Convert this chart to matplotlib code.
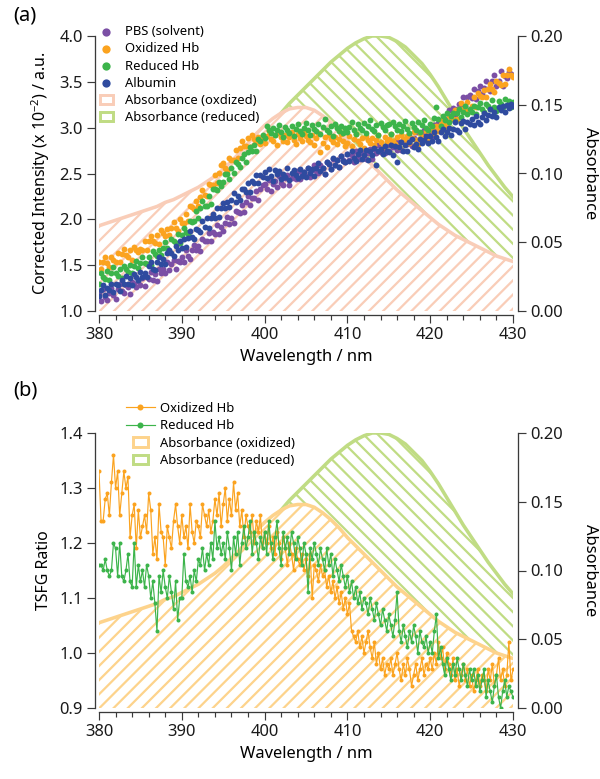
"""SFG spectra of haemoglobin with absorbance bands"""
import matplotlib.pyplot as plt
import matplotlib.patches as mpatches
from matplotlib.legend_handler import HandlerPatch
from matplotlib.ticker import MultipleLocator, FormatStrFormatter
import numpy as np

plt.rcParams['font.family'] = ['Noto Sans', 'DejaVu Sans']
plt.rcParams['mathtext.fontset'] = 'custom'
plt.rcParams['mathtext.rm'] = 'Noto Sans'
plt.rcParams['mathtext.it'] = 'Noto Sans:italic'
plt.rcParams['hatch.linewidth'] = 1.9

# absorbance, 1 nm steps 380..430
wl_abs = np.arange(380, 431)
abs_ox = [0.062, 0.064, 0.066, 0.068, 0.070, 0.072, 0.074, 0.076, 0.079, 0.081,
          0.084, 0.087, 0.090, 0.094, 0.098, 0.103, 0.109, 0.115, 0.122, 0.129,
          0.135, 0.140, 0.144, 0.147, 0.148, 0.148, 0.146, 0.142, 0.137, 0.131,
          0.124, 0.118, 0.112, 0.106, 0.100, 0.094, 0.088, 0.083, 0.078, 0.073,
          0.068, 0.063, 0.059, 0.055, 0.052, 0.049, 0.046, 0.043, 0.040, 0.038,
          0.036]
abs_red = [0.038, 0.040, 0.042, 0.044, 0.046, 0.049, 0.052, 0.055, 0.059, 0.063,
           0.067, 0.072, 0.077, 0.083, 0.089, 0.095, 0.102, 0.109, 0.116, 0.123,
           0.130, 0.137, 0.144, 0.151, 0.157, 0.163, 0.169, 0.175, 0.181, 0.186,
           0.191, 0.195, 0.198, 0.200, 0.200, 0.199, 0.196, 0.192, 0.186, 0.180,
           0.172, 0.163, 0.153, 0.143, 0.133, 0.124, 0.115, 0.106, 0.098, 0.090,
           0.083]

# SFG data, 0.25 nm steps 380..430
wl = 380 + 0.25 * np.arange(201)

pbs = [1.19, 1.11, 1.24, 1.15, 1.12, 1.20, 1.25, 1.17, 1.13, 1.24, 1.29, 1.22, 1.20, 1.28, 1.26, 1.19, 1.32, 1.29, 1.26, 1.33,
       1.28, 1.36, 1.27, 1.37, 1.35, 1.43, 1.34, 1.40, 1.33, 1.46, 1.42, 1.46, 1.41, 1.54, 1.45, 1.51, 1.56, 1.46, 1.55, 1.53,
       1.59, 1.54, 1.66, 1.60, 1.57, 1.67, 1.72, 1.66, 1.71, 1.65, 1.78, 1.76, 1.76, 1.85, 1.76, 1.86, 1.84, 1.94, 1.84, 1.92,
       1.87, 1.96, 2.02, 1.95, 2.01, 1.96, 2.09, 2.08, 2.07, 2.16, 2.08, 2.19, 2.25, 2.16, 2.23, 2.23, 2.31, 2.21, 2.33, 2.37,
       2.39, 2.33, 2.43, 2.31, 2.39, 2.42, 2.35, 2.47, 2.40, 2.38, 2.45, 2.48, 2.37, 2.45, 2.50, 2.44, 2.53, 2.44, 2.50, 2.52,
       2.47, 2.56, 2.46, 2.54, 2.59, 2.53, 2.51, 2.59, 2.56, 2.50, 2.62, 2.60, 2.55, 2.66, 2.59, 2.65, 2.57, 2.69, 2.65, 2.62,
       2.71, 2.65, 2.70, 2.62, 2.75, 2.68, 2.66, 2.72, 2.77, 2.66, 2.72, 2.77, 2.66, 2.77, 2.72, 2.81, 2.73, 2.77, 2.72, 2.81,
       2.74, 2.82, 2.79, 2.86, 2.76, 2.84, 2.76, 2.87, 2.85, 2.82, 2.91, 2.80, 2.89, 2.95, 2.87, 2.85, 2.93, 2.97, 2.87, 2.93,
       2.95, 2.90, 3.03, 2.98, 3.05, 2.96, 3.09, 3.09, 3.06, 3.19, 3.12, 3.21, 3.12, 3.20, 3.26, 3.21, 3.33, 3.24, 3.33, 3.36,
       3.32, 3.42, 3.31, 3.40, 3.45, 3.37, 3.43, 3.51, 3.42, 3.40, 3.51, 3.58, 3.46, 3.51, 3.62, 3.46, 3.56, 3.54, 3.61, 3.59,
       3.56]
oxi = [1.53, 1.46, 1.53, 1.59, 1.52, 1.48, 1.59, 1.56, 1.54, 1.63, 1.53, 1.62, 1.68, 1.61, 1.59, 1.67, 1.56, 1.70, 1.67, 1.64,
       1.68, 1.66, 1.76, 1.66, 1.76, 1.82, 1.76, 1.74, 1.83, 1.73, 1.88, 1.85, 1.82, 1.90, 1.83, 1.91, 1.97, 1.91, 1.87, 2.00,
       1.96, 1.96, 2.06, 1.98, 2.14, 2.13, 2.11, 2.20, 2.15, 2.24, 2.32, 2.27, 2.25, 2.39, 2.38, 2.38, 2.48, 2.40, 2.51, 2.59,
       2.61, 2.56, 2.53, 2.67, 2.65, 2.65, 2.76, 2.67, 2.78, 2.85, 2.80, 2.80, 2.89, 2.79, 2.92, 2.88, 2.84, 2.90, 2.82, 2.88,
       2.83, 2.91, 2.96, 2.88, 2.85, 2.92, 2.81, 2.94, 2.90, 2.86, 2.92, 2.84, 2.90, 2.95, 2.87, 2.82, 2.93, 2.89, 2.86, 2.94,
       2.91, 2.87, 2.84, 2.92, 2.81, 2.89, 2.94, 2.73, 2.83, 2.90, 2.79, 2.92, 2.88, 2.84, 2.90, 2.82, 2.88, 2.93, 2.85, 2.80,
       2.83, 2.91, 2.80, 2.88, 2.93, 2.85, 2.82, 2.89, 2.78, 2.91, 2.87, 2.83, 2.89, 2.81, 2.87, 2.92, 2.84, 2.79, 2.90, 2.86,
       2.88, 2.93, 2.85, 2.82, 2.90, 2.79, 2.92, 2.88, 2.85, 2.91, 2.83, 2.89, 2.95, 2.87, 2.82, 2.94, 2.90, 2.88, 2.96, 2.86,
       2.99, 2.97, 2.94, 3.02, 2.96, 3.04, 3.10, 3.04, 3.01, 3.13, 3.11, 3.10, 3.19, 3.10, 3.20, 3.27, 3.20, 3.19, 3.28, 3.18,
       3.24, 3.33, 3.23, 3.38, 3.35, 3.33, 3.41, 3.34, 3.42, 3.48, 3.42, 3.39, 3.51, 3.49, 3.47, 3.57, 3.48, 3.57, 3.64, 3.57,
       3.55]
red = [1.29, 1.41, 1.37, 1.35, 1.44, 1.34, 1.42, 1.48, 1.41, 1.38, 1.46, 1.36, 1.49, 1.46, 1.43, 1.50, 1.42, 1.49, 1.55, 1.47,
       1.52, 1.59, 1.52, 1.51, 1.59, 1.50, 1.65, 1.62, 1.60, 1.67, 1.61, 1.69, 1.75, 1.69, 1.65, 1.78, 1.76, 1.74, 1.84, 1.74,
       1.83, 1.91, 1.86, 1.84, 1.98, 1.97, 1.98, 2.09, 2.01, 2.12, 2.20, 2.15, 2.15, 2.25, 2.17, 2.33, 2.33, 2.32, 2.41, 2.36,
       2.41, 2.50, 2.49, 2.44, 2.56, 2.51, 2.63, 2.60, 2.57, 2.67, 2.71, 2.62, 2.73, 2.79, 2.74, 2.81, 2.75, 2.88, 2.85, 2.92,
       2.89, 3.02, 2.98, 2.94, 3.00, 2.92, 2.98, 3.03, 2.95, 2.90, 3.01, 2.97, 2.94, 3.02, 2.91, 2.99, 3.04, 2.96, 2.93, 3.00,
       3.05, 2.97, 2.92, 3.03, 2.99, 2.96, 3.04, 2.93, 3.01, 3.09, 2.98, 2.95, 3.02, 2.91, 3.04, 3.00, 2.96, 3.02, 2.94, 3.00,
       2.95, 3.01, 3.06, 2.98, 2.93, 3.04, 3.00, 2.97, 3.05, 2.94, 3.02, 3.08, 2.99, 2.96, 3.03, 2.92, 3.05, 3.01, 2.97, 3.03,
       3.04, 2.93, 3.06, 3.02, 2.98, 3.04, 2.96, 3.02, 3.07, 2.99, 2.94, 3.05, 3.01, 2.98, 3.06, 2.95, 3.03, 3.08, 3.00, 2.97,
       3.04, 3.02, 3.11, 3.23, 3.09, 3.02, 3.13, 3.08, 3.16, 3.06, 3.13, 3.16, 3.07, 3.16, 3.20, 3.12, 3.17, 3.24, 3.15, 3.20,
       3.17, 3.24, 3.15, 3.23, 3.27, 3.20, 3.17, 3.26, 3.24, 3.20, 3.30, 3.23, 3.18, 3.29, 3.26, 3.23, 3.31, 3.25, 3.29, 3.23,
       3.28]
alb = [1.16, 1.23, 1.28, 1.17, 1.25, 1.23, 1.30, 1.21, 1.30, 1.28, 1.22, 1.34, 1.30, 1.38, 1.30, 1.36, 1.28, 1.40, 1.37, 1.34,
       1.43, 1.37, 1.42, 1.37, 1.49, 1.53, 1.46, 1.45, 1.54, 1.59, 1.51, 1.57, 1.51, 1.63, 1.67, 1.63, 1.60, 1.71, 1.67, 1.76,
       1.69, 1.78, 1.70, 1.80, 1.87, 1.81, 1.79, 1.89, 1.88, 1.86, 1.98, 1.92, 2.01, 1.91, 2.01, 2.06, 2.01, 2.12, 2.03, 2.12,
       2.18, 2.12, 2.19, 2.13, 2.21, 2.29, 2.19, 2.25, 2.21, 2.33, 2.33, 2.30, 2.40, 2.30, 2.42, 2.40, 2.48, 2.40, 2.48, 2.46,
       2.52, 2.45, 2.55, 2.47, 2.42, 2.54, 2.49, 2.53, 2.44, 2.50, 2.46, 2.56, 2.43, 2.51, 2.54, 2.48, 2.45, 2.55, 2.47, 2.52,
       2.46, 2.56, 2.51, 2.55, 2.47, 2.56, 2.61, 2.53, 2.56, 2.50, 2.62, 2.60, 2.55, 2.67, 2.59, 2.65, 2.57, 2.69, 2.64, 2.62,
       2.71, 2.64, 2.74, 2.67, 2.64, 2.71, 2.76, 2.66, 2.70, 2.76, 2.65, 2.74, 2.70, 2.78, 2.59, 2.74, 2.77, 2.71, 2.80, 2.74,
       2.73, 2.81, 2.70, 2.80, 2.62, 2.79, 2.84, 2.75, 2.81, 2.75, 2.84, 2.88, 2.79, 2.82, 2.77, 2.88, 2.83, 2.87, 2.91, 2.83,
       2.91, 2.85, 2.95, 2.90, 2.86, 2.95, 2.99, 2.91, 2.95, 3.00, 2.92, 2.99, 3.06, 2.98, 2.95, 3.05, 3.07, 2.99, 3.06, 3.04,
       3.09, 3.03, 3.13, 3.06, 3.04, 3.12, 3.16, 3.08, 3.14, 3.20, 3.13, 3.17, 3.12, 3.23, 3.19, 3.24, 3.17, 3.25, 3.22, 3.26,
       3.24]

tsfg_ox = [1.33, 1.24, 1.24, 1.28, 1.29, 1.25, 1.31, 1.36, 1.30, 1.33, 1.25, 1.29, 1.33, 1.30, 1.32, 1.21, 1.25, 1.27, 1.19, 1.26,
           1.21, 1.23, 1.25, 1.22, 1.29, 1.26, 1.18, 1.21, 1.17, 1.27, 1.22, 1.21, 1.16, 1.23, 1.21, 1.19, 1.24, 1.27, 1.23, 1.20,
           1.25, 1.21, 1.23, 1.19, 1.27, 1.22, 1.20, 1.24, 1.23, 1.21, 1.27, 1.25, 1.23, 1.26, 1.22, 1.24, 1.28, 1.25, 1.29, 1.23,
           1.27, 1.30, 1.24, 1.28, 1.25, 1.31, 1.26, 1.29, 1.23, 1.26, 1.21, 1.25, 1.23, 1.22, 1.25, 1.20, 1.24, 1.22, 1.25, 1.19,
           1.22, 1.20, 1.23, 1.19, 1.21, 1.18, 1.22, 1.20, 1.17, 1.21, 1.19, 1.16, 1.20, 1.18, 1.15, 1.19, 1.17, 1.16, 1.18, 1.15,
           1.17, 1.14, 1.18, 1.10, 1.16, 1.15, 1.13, 1.16, 1.14, 1.15, 1.12, 1.14, 1.11, 1.13, 1.10, 1.12, 1.09, 1.11, 1.08, 1.10,
           1.07, 1.09, 1.04, 1.03, 1.02, 1.04, 1.01, 1.03, 1.00, 1.02, 1.04, 1.01, 0.99, 1.02, 0.98, 1.00, 0.97, 0.99, 0.96, 0.98,
           0.97, 0.99, 0.96, 0.98, 1.00, 0.97, 0.95, 0.98, 0.96, 0.99, 0.97, 0.94, 0.96, 0.98, 0.95, 0.97, 0.99, 0.96, 0.98, 0.97,
           0.99, 0.97, 1.00, 0.98, 1.02, 0.99, 1.01, 0.97, 1.00, 0.98, 0.96, 0.99, 0.95, 0.97, 0.94, 0.96, 0.98, 0.95, 0.97, 0.94,
           0.96, 0.93, 0.95, 0.97, 0.94, 0.96, 0.95, 0.93, 0.97, 0.95, 0.98, 0.94, 0.96, 0.99, 0.95, 0.97, 0.94, 0.96, 1.02, 0.95,
           0.97]
tsfg_red = [1.16, 1.16, 1.15, 1.17, 1.15, 1.14, 1.15, 1.20, 1.19, 1.14, 1.20, 1.14, 1.13, 1.15, 1.18, 1.13, 1.12, 1.20, 1.12, 1.16,
            1.13, 1.15, 1.12, 1.16, 1.14, 1.10, 1.13, 1.09, 1.04, 1.14, 1.11, 1.15, 1.12, 1.10, 1.14, 1.11, 1.08, 1.13, 1.06, 1.10,
            1.10, 1.18, 1.13, 1.12, 1.14, 1.11, 1.15, 1.13, 1.17, 1.16, 1.19, 1.15, 1.18, 1.16, 1.20, 1.17, 1.24, 1.19, 1.21, 1.18,
            1.20, 1.17, 1.22, 1.19, 1.15, 1.21, 1.18, 1.22, 1.16, 1.20, 1.23, 1.19, 1.21, 1.24, 1.18, 1.22, 1.20, 1.17, 1.21, 1.19,
            1.22, 1.18, 1.24, 1.20, 1.17, 1.21, 1.24, 1.19, 1.16, 1.22, 1.19, 1.21, 1.18, 1.22, 1.20, 1.17, 1.21, 1.19, 1.16, 1.20,
            1.18, 1.11, 1.19, 1.17, 1.20, 1.18, 1.16, 1.19, 1.17, 1.15, 1.19, 1.16, 1.18, 1.14, 1.17, 1.15, 1.13, 1.16, 1.14, 1.12,
            1.14, 1.11, 1.13, 1.10, 1.12, 1.09, 1.11, 1.08, 1.10, 1.09, 1.07, 1.10, 1.08, 1.06, 1.09, 1.07, 1.05, 1.08, 1.06, 1.04,
            1.07, 1.05, 1.03, 1.06, 1.11, 1.04, 1.02, 1.05, 1.03, 1.01, 1.04, 1.02, 1.05, 1.03, 1.00, 1.04, 1.02, 1.01, 1.03, 1.00,
            1.02, 1.00, 1.04, 1.07, 0.99, 1.01, 0.98, 0.96, 0.99, 0.97, 0.95, 0.98, 0.96, 0.99, 0.97, 0.95, 0.98, 0.96, 0.94, 0.97,
            0.95, 0.97, 0.94, 0.96, 0.93, 0.95, 0.97, 0.92, 0.95, 0.93, 0.91, 0.94, 0.96, 0.92, 0.90, 0.93, 0.95, 0.92, 0.94, 0.93,
            0.92]

c_pbs = '#7b4fa5'
c_ox = '#fba31f'
c_red = '#3cb44b'
c_alb = '#2f4b9f'
c_abs_ox_a = '#f9cdb8'
c_abs_ox_b = '#fdd38c'
c_abs_red = '#c0dc84'
c_ax = '#3a3a3a'

DPI = 85
fig = plt.figure(figsize=(600 / DPI, 779 / DPI), dpi=DPI)


def style(ax, ax2):
    ax.set_zorder(ax2.get_zorder() + 1)
    ax.patch.set_visible(False)
    ax.spines['top'].set_visible(False)
    ax.spines['right'].set_visible(False)
    ax.spines['left'].set_position(('outward', 3))
    ax.spines['bottom'].set_position(('outward', 3))
    for s in ['top', 'left', 'bottom']:
        ax2.spines[s].set_visible(False)
    ax2.spines['right'].set_position(('outward', 4))
    for a in (ax, ax2):
        for sp in a.spines.values():
            sp.set_color(c_ax)
            sp.set_linewidth(1.1)
        a.tick_params(which='major', direction='out', length=6.8, width=1.0,
                      labelsize=14, pad=4, color=c_ax, labelcolor='#1a1a1a')
        a.tick_params(which='minor', direction='out', length=4.2, width=1.0, color=c_ax)
    ax.set_xlim(380, 430)
    ax.xaxis.set_major_locator(MultipleLocator(10))
    ax.xaxis.set_minor_locator(MultipleLocator(2))
    ax.set_xlabel('Wavelength / nm', fontsize=14, labelpad=5)
    ax2.set_ylim(0, 0.2)
    ax2.yaxis.set_major_locator(MultipleLocator(0.05))
    ax2.yaxis.set_major_formatter(FormatStrFormatter('%.2f'))
    ax2.set_ylabel('Absorbance', fontsize=14, rotation=270, va='bottom', labelpad=16)


def absorbance(ax2, c_ox_abs):
    ax2.fill_between(wl_abs, 0, abs_red, facecolor='none', edgecolor=c_abs_red,
                     hatch='\\\\', linewidth=0, zorder=1.0)
    ax2.plot(wl_abs, abs_red, color=c_abs_red, lw=3.0, zorder=1.1)
    ax2.fill_between(wl_abs, 0, abs_ox, facecolor='white', edgecolor=c_ox_abs,
                     hatch='//', linewidth=0, zorder=1.2)
    ax2.plot(wl_abs, abs_ox, color=c_ox_abs, lw=3.0, zorder=1.3)


def small_patch(legend, orig_handle, xdescent, ydescent, width, height, fontsize):
    w = min(width, 1.0 * fontsize * DPI / 72)
    return mpatches.Rectangle((-xdescent + (width - w) / 2, -ydescent), w, height)


# (a)
ax_a = fig.add_axes([99 / 600, 1 - 311 / 779, 414 / 600, 275 / 779])
ax_a2 = ax_a.twinx()
style(ax_a, ax_a2)
absorbance(ax_a2, c_abs_ox_a)

h1 = ax_a.scatter(wl, pbs, s=25, color=c_pbs, linewidths=0)
h2 = ax_a.scatter(wl, oxi, s=25, color=c_ox, linewidths=0)
h3 = ax_a.scatter(wl, red, s=25, color=c_red, linewidths=0)
h4 = ax_a.scatter(wl, alb, s=25, color=c_alb, linewidths=0)
ax_a.set_ylim(1.0, 4.0)
ax_a.yaxis.set_major_locator(MultipleLocator(0.5))
ax_a.yaxis.set_major_formatter(FormatStrFormatter('%.1f'))
ax_a.set_ylabel('Corrected Intensity (x 10$^{-2}$) / a.u.', fontsize=13.5, labelpad=6)

p_ox_a = mpatches.Patch(facecolor='white', edgecolor=c_abs_ox_a, linewidth=2.5)
p_red = mpatches.Patch(facecolor='white', edgecolor=c_abs_red, linewidth=2.5)
ax_a.legend([h1, h2, h3, h4, p_ox_a, p_red],
            ['PBS (solvent)', 'Oxidized Hb', 'Reduced Hb', 'Albumin',
             'Absorbance (oxdized)', 'Absorbance (reduced)'],
            loc='upper left', bbox_to_anchor=(100 / 600, 1 - 25 / 779),
            bbox_transform=fig.transFigure, frameon=False, fontsize=11,
            handlelength=1.0, handletextpad=0.95, labelspacing=0.33,
            borderpad=0, borderaxespad=0, markerscale=1.4)

# (b)
ax_b = fig.add_axes([99 / 600, 1 - 708 / 779, 414 / 600, 275 / 779])
ax_b2 = ax_b.twinx()
style(ax_b, ax_b2)
absorbance(ax_b2, c_abs_ox_b)

l1, = ax_b.plot(wl, tsfg_ox, '-o', color=c_ox, lw=1.0, ms=3.4, mew=0)
l2, = ax_b.plot(wl, tsfg_red, '-o', color=c_red, lw=1.0, ms=3.4, mew=0)
ax_b.set_ylim(0.9, 1.4)
ax_b.yaxis.set_major_locator(MultipleLocator(0.1))
ax_b.yaxis.set_major_formatter(FormatStrFormatter('%.1f'))
ax_b.set_ylabel('TSFG Ratio', fontsize=13.5, labelpad=6)

p_ox_b = mpatches.Patch(facecolor='white', edgecolor=c_abs_ox_b, linewidth=2.5)
ax_b.legend([l1, l2, p_ox_b, p_red],
            ['Oxidized Hb', 'Reduced Hb', 'Absorbance (oxidized)', 'Absorbance (reduced)'],
            loc='upper left', bbox_to_anchor=(126 / 600, 1 - 402 / 779),
            bbox_transform=fig.transFigure, frameon=False, fontsize=11,
            handlelength=2.2, handletextpad=0.45, labelspacing=0.33,
            borderpad=0, borderaxespad=0, markerscale=1.5,
            handler_map={mpatches.Patch: HandlerPatch(patch_func=small_patch)})

fig.text(13 / 600, 1 - 15 / 779, '(a)', fontsize=17, va='center')
fig.text(13 / 600, 1 - 391 / 779, '(b)', fontsize=17, va='center')

fig.savefig('out.png', dpi=DPI)
